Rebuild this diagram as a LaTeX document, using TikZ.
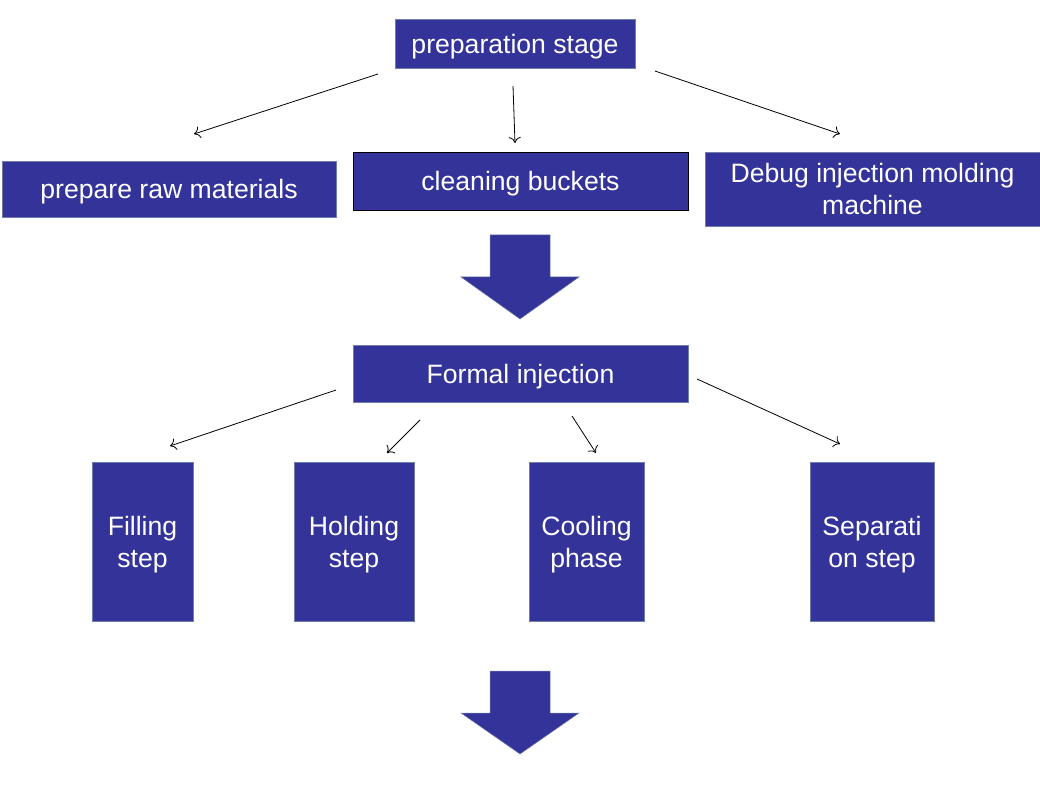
\documentclass[tikz,border=0pt]{standalone}
\usepackage{fontspec}
\setmainfont{Liberation Sans}
\usetikzlibrary{arrows.meta}
\definecolor{boxblue}{HTML}{333399}
\definecolor{boxedge}{HTML}{6F7FA8}
\tikzset{
  box/.style={draw=boxedge, line width=0.8pt, fill=boxblue, text=white, inner sep=0pt, align=center, text depth=0pt, font=\fontsize{26.6}{32}\selectfont},
  conn/.style={draw=black, line width=0.8pt, -{To[length=6pt,width=12pt]}},
  bigarrow/.style={fill=boxblue, draw=boxedge, line width=0.5pt}
}
\begin{document}
\begin{tikzpicture}[x=1pt,y=-1pt]
\useasboundingbox (0,0) rectangle (1040,791);
% boxes
\node[box, minimum width=240pt, minimum height=49pt] (prep) at (515,43.5) {preparation stage};
\node[box, minimum width=334pt, minimum height=56pt] (raw) at (169,189) {prepare raw materials};
\node[box, draw=black, minimum width=335pt, minimum height=58pt] (clean) at (520.5,181) {cleaning buckets};
\node[box, minimum width=335pt, minimum height=74pt] (debug) at (872.5,189) {Debug injection molding\\machine};
\node[box, minimum width=335pt, minimum height=57pt] (formal) at (520.5,373.5) {Formal injection};
\node[box, minimum width=101pt, minimum height=159pt] (fill) at (142.5,541.5) {Filling\\step};
\node[box, minimum width=120pt, minimum height=159pt] (hold) at (354,541.5) {Holding\\step};
\node[box, minimum width=115pt, minimum height=159pt] (cool) at (586.5,541.5) {Cooling\\phase};
\node[box, minimum width=124pt, minimum height=159pt] (sep) at (872,541.5) {Separati\\on step};
% connector end points
\coordinate (p1s) at (378,74);  \coordinate (p1e) at (194,134);
\coordinate (p2s) at (513,86);  \coordinate (p2e) at (515,143);
\coordinate (p3s) at (655,71);  \coordinate (p3e) at (840,134);
\coordinate (f1s) at (336,390); \coordinate (f1e) at (170,446);
\coordinate (f2s) at (420,420); \coordinate (f2e) at (387,453);
\coordinate (f3s) at (572,416); \coordinate (f3e) at (596,453);
\coordinate (f4s) at (697,379); \coordinate (f4e) at (840,444);
\draw[conn] (p1s) -- (p1e);
\draw[conn] (p2s) -- (p2e);
\draw[conn] (p3s) -- (p3e);
\draw[conn] (f1s) -- (f1e);
\draw[conn] (f2s) -- (f2e);
\draw[conn] (f3s) -- (f3e);
\draw[conn] (f4s) -- (f4e);
% big arrows
\draw[bigarrow] (490,235) -- (550,235) -- (550,277) -- (579,277) -- (520,319) -- (461,277) -- (490,277) -- cycle;
\draw[bigarrow] (490,671) -- (550,671) -- (550,713) -- (579,713) -- (520,754) -- (461,713) -- (490,713) -- cycle;
\end{tikzpicture}
\end{document}
